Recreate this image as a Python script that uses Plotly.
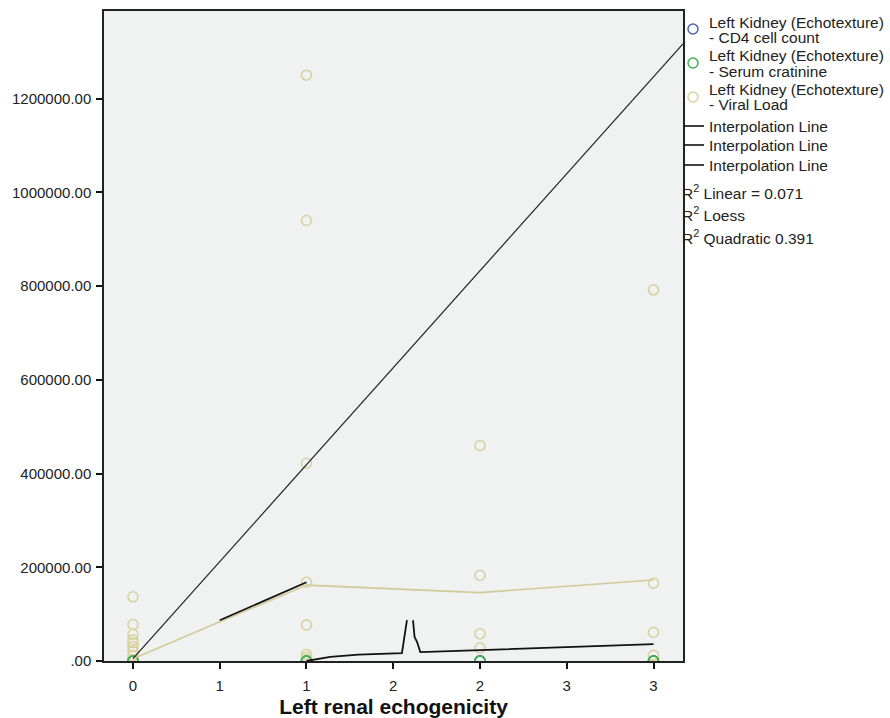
import plotly.graph_objects as go

# ---------------- data ----------------
cd4_x = [0, 0, 0, 1, 1, 2, 3]
cd4_y = [350, 420, 510, 280, 470, 300, 390]

creat_x = [0, 0, 1, 1, 2, 2, 3, 3]
creat_y = [1.1, 0.9, 1.2, 1.0, 0.8, 1.3, 1.0, 1.4]

vl_x = [0, 0, 0, 0, 0, 0, 0, 0, 0,
        1, 1, 1, 1, 1, 1, 1, 1,
        2, 2, 2, 2,
        3, 3, 3, 3]
vl_y = [137000, 78000, 57000, 45000, 39000, 31000, 21000, 11000, 3000,
        1250000, 940000, 422000, 168000, 77000, 14000, 8000, 3000,
        460000, 183000, 58000, 28000,
        792000, 166000, 61000, 12000]

# fit / interpolation lines
linear_x = [0, 3.17]
linear_y = [5000, 1317000]

loess_x = [0, 1, 2, 3]
loess_y = [5000, 162000, 146000, 173000]

interp_seg_x = [0.5, 1.0]
interp_seg_y = [87000, 168000]

interp_low_x = [1.0, 1.137, 1.3, 1.425, 1.55, 1.579, None,
                1.614, 1.623, 1.637, 1.656, 3.0]
interp_low_y = [0, 9000, 13500, 16000, 17000, 87000, None,
                87000, 51000, 41000, 19000, 36000]

x_tickvals = [0, 0.5, 1, 1.5, 2, 2.5, 3]
x_ticktext = ["0", "1", "1", "2", "2", "3", "3"]
y_tickvals = [0, 200000, 400000, 600000, 800000, 1000000, 1200000]
y_ticktext = [".00", "200000.00", "400000.00", "600000.00", "800000.00",
              "1000000.00", "1200000.00"]

legend_labels = [
    ("Left Kidney (Echotexture)", "- CD4 cell count"),
    ("Left Kidney (Echotexture)", "- Serum cratinine"),
    ("Left Kidney (Echotexture)", "- Viral Load"),
]
line_labels = ["Interpolation Line", "Interpolation Line", "Interpolation Line"]
r2_labels = ["R<sup>2</sup> Linear = 0.071", "R<sup>2</sup> Loess",
             "R<sup>2</sup> Quadratic 0.391"]

# ---------------- style ----------------
BLUE = "#4a62b4"
GREEN = "#3fb34f"
KHAKI = "#d8d29e"
KHAKI_LINE = "#d2cb97"
FONT = "Liberation Sans, Arial, sans-serif"
TXT = "#222222"
LEG_SIZE = 15.5
TICK_SIZE = 15

W, H = 890, 718
L, R, T, B = 104, 207, 11, 57
PW = W - L - R
PH = H - T - B


def px(xp):
    return (xp - L) / PW


def py(yp):
    return (H - B - yp) / PH


fig = go.Figure()

circle = dict(symbol="circle-open", size=10, line=dict(width=1.6))

fig.add_trace(go.Scatter(x=cd4_x, y=cd4_y, mode="markers",
                         marker=dict(color=BLUE, **circle)))
fig.add_trace(go.Scatter(x=vl_x, y=vl_y, mode="markers",
                         marker=dict(color=KHAKI, **circle)))
fig.add_trace(go.Scatter(x=creat_x, y=creat_y, mode="markers",
                         marker=dict(color=GREEN, **circle)))

fig.add_trace(go.Scatter(x=loess_x, y=loess_y, mode="lines",
                         line=dict(color=KHAKI_LINE, width=1.6)))
fig.add_trace(go.Scatter(x=linear_x, y=linear_y, mode="lines",
                         line=dict(color="#222222", width=1.2)))
fig.add_trace(go.Scatter(x=interp_seg_x, y=interp_seg_y, mode="lines",
                         line=dict(color="#111111", width=1.8)))
fig.add_trace(go.Scatter(x=interp_low_x, y=interp_low_y, mode="lines",
                         line=dict(color="#111111", width=1.8),
                         connectgaps=False))

# ---------------- custom legend ----------------
shapes = []
annotations = []
colors = [BLUE, GREEN, KHAKI]
centers = [29, 63, 97]


def txt(text, xp, yp):
    return dict(text=text, xref="paper", yref="paper",
                x=px(xp), y=py(yp), xanchor="left", yanchor="middle",
                showarrow=False,
                font=dict(size=LEG_SIZE, color=TXT, family=FONT))


for (l1, l2), c, yc in zip(legend_labels, colors, centers):
    shapes.append(dict(type="circle", xref="paper", yref="paper",
                       xsizemode="pixel", ysizemode="pixel",
                       xanchor=px(693), yanchor=py(yc),
                       x0=-5, x1=5, y0=-5, y1=5,
                       line=dict(color=c, width=1.5)))
    annotations.append(txt(l1, 707, yc - 7))
    annotations.append(txt(l2, 707, yc + 8))

for lbl, yc in zip(line_labels, [126, 145, 165]):
    shapes.append(dict(type="line", xref="paper", yref="paper",
                       x0=px(684), x1=px(704), y0=py(yc), y1=py(yc),
                       line=dict(color="#111", width=1.6)))
    annotations.append(txt(lbl, 707, yc))

for lbl, yc in zip(r2_labels, [192, 214, 237]):
    annotations.append(txt(lbl, 680, yc))

fig.update_layout(
    width=W, height=H,
    margin=dict(l=L, r=R, t=T, b=B, pad=0, autoexpand=False),
    paper_bgcolor="white",
    plot_bgcolor="#f0f1f1",
    showlegend=False,
    font=dict(family=FONT, size=TICK_SIZE, color=TXT),
    shapes=shapes,
    annotations=annotations,
)

fig.update_xaxes(
    automargin=False,
    range=[-0.167, 3.17],
    tickvals=x_tickvals, ticktext=x_ticktext,
    ticks="outside", ticklen=6, tickwidth=1.5, tickcolor="#111",
    ticklabelstandoff=4,
    showline=True, linecolor="#222", linewidth=1.5, mirror=True,
    showgrid=False, zeroline=False,
    tickfont=dict(size=TICK_SIZE, color=TXT),
    title=dict(text="<b>Left renal echogenicity</b>",
               font=dict(size=21, color="#111"), standoff=9),
)
fig.update_yaxes(
    automargin=False,
    range=[0, 1387000],
    tickvals=y_tickvals, ticktext=y_ticktext,
    ticks="outside", ticklen=6, tickwidth=1.5, tickcolor="#111",
    ticklabelstandoff=2,
    showline=True, linecolor="#222", linewidth=1.5, mirror=True,
    showgrid=False, zeroline=False,
    tickfont=dict(size=TICK_SIZE, color=TXT),
)

fig.write_html("out.html")
